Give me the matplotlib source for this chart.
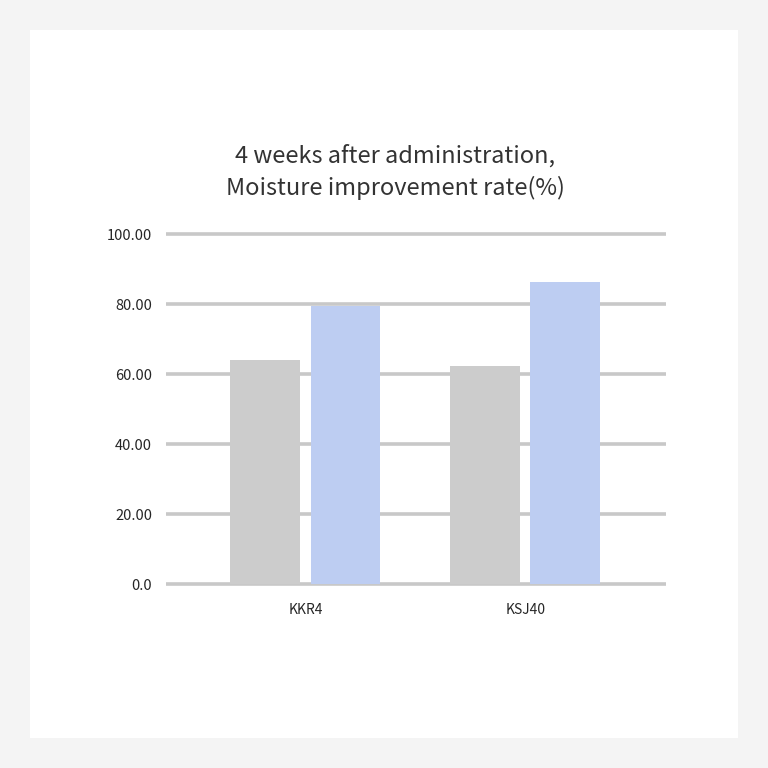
import numpy as np
import matplotlib.pyplot as plt
from matplotlib.patches import Rectangle

plt.rcParams['font.family'] = ['Noto Sans CJK KR', 'DejaVu Sans']

# datos
categorias = ['KKR4', 'KSJ40']
serie_gris = [64.0, 62.3]
serie_azul = [79.5, 86.3]
ticks_y = [0, 20, 40, 60, 80, 100]
etiquetas_y = ['0.0', '20.00', '40.00', '60.00', '80.00', '100.00']
titulo = '4 weeks after administration,\nMoisture improvement rate(%)'

W = 768
fig = plt.figure(figsize=(7.68, 7.68), dpi=100)
fig.patch.set_facecolor('#f4f4f4')
fig.patches.append(Rectangle((30 / W, 30 / W), 708 / W, 708 / W,
                             transform=fig.transFigure, facecolor='white',
                             edgecolor='none', zorder=-1))

ax = fig.add_axes([166 / W, 1 - 584 / W, 500 / W, 350 / W])
ax.set_zorder(2)
ax.set_facecolor('none')

x = np.arange(len(categorias))
ancho = 0.318
ax.bar(x - 0.182, serie_gris, width=ancho, color='#cccccc', zorder=3)
ax.bar(x + 0.182, serie_azul, width=ancho, color='#bdcdf2', zorder=3)

ax.set_xlim(-0.634, 1.639)
ax.set_ylim(0, 100)
ax.set_yticks(ticks_y)
ax.set_yticklabels(etiquetas_y, fontsize=10.5, color='#262626')
ax.set_xticks(x)
ax.set_xticklabels(categorias, fontsize=10, color='#262626')
ax.tick_params(axis='y', length=0, pad=10)
ax.tick_params(axis='x', length=0, pad=14)

for v in ticks_y:
    ax.axhline(v, color='#c8c8c8', linewidth=2.6, zorder=1, clip_on=False,
               solid_capstyle='butt')

for s in ax.spines.values():
    s.set_visible(False)

fig.text(395 / W, 1 - 172 / W, titulo, ha='center', va='center',
         fontsize=17, color='#333333', linespacing=1.4)

plt.savefig('out.png', dpi=100, facecolor=fig.get_facecolor())
